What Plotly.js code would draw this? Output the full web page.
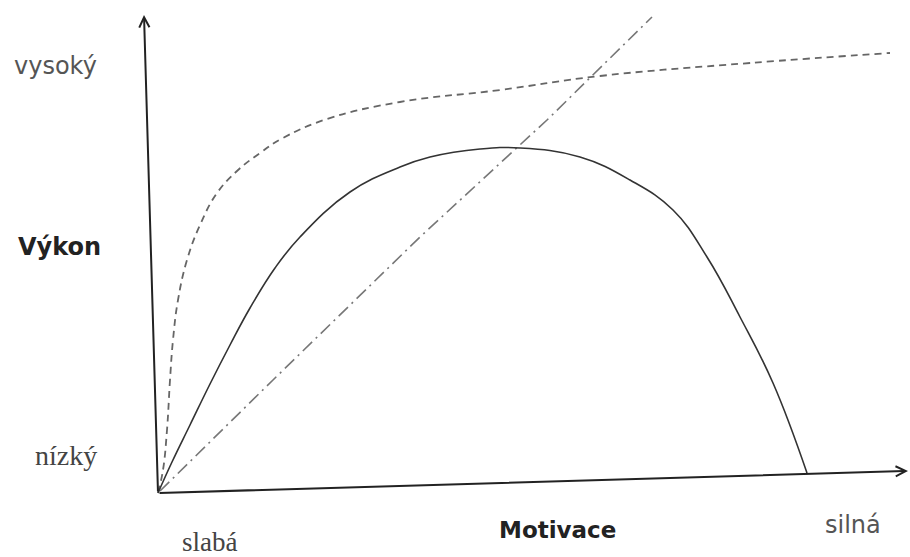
<!DOCTYPE html>
<html>
<head>
<meta charset="utf-8">
<script src="https://cdn.plot.ly/plotly-3.0.1.min.js"></script>
<style>html,body{margin:0;padding:0;background:#fff;}#chart{width:910px;height:557px;}</style>
</head>
<body>
<div id="chart"></div>
<script>
// Data (motivation on x, performance on y; origin at the axes' corner)
const performanceX = [0, 14, 32, 52, 72, 92, 117, 142, 192, 242, 272, 322, 362, 422, 472, 515, 549, 582, 615, 649];
const performanceY = [0, 31, 68, 109, 148, 185, 225, 256, 301, 326, 336, 344, 345, 336, 313, 283, 236, 176, 110, 20];

const dashedX = [0, 5, 9, 12, 15, 20, 29, 42, 59, 79, 102, 125, 169, 242, 342, 442, 592, 732];
const dashedY = [0, 23, 63, 113, 153, 193, 233, 268, 300, 322, 340, 355, 374, 391, 403, 417, 430, 440];

const dashDotX = [2, 115, 262, 389, 494];
const dashDotY = [2, 113, 256, 373, 476];

const yAxisEnd = [-14, 478];
const xAxisEnd = [750, 22];

const labels = {
  high: 'vysoký', low: 'nízký', yTitle: 'Výkon',
  weak: 'slabá', strong: 'silná', xTitle: 'Motivace'
};

const traces = [
  {x: dashDotX, y: dashDotY, mode: 'lines', line: {color: '#777', width: 1.6, dash: '13px,5px,2px,5px'}, hoverinfo: 'skip'},
  {x: dashedX, y: dashedY, mode: 'lines', line: {color: '#666', width: 1.8, dash: '7px,5px', shape: 'spline', smoothing: 1.2}, hoverinfo: 'skip'},
  {x: performanceX, y: performanceY, mode: 'lines', line: {color: '#333', width: 1.6, shape: 'spline', smoothing: 1.2}, hoverinfo: 'skip'}
];

const arrowCommon = {xref: 'x', yref: 'y', axref: 'x', ayref: 'y', text: '', showarrow: true,
  arrowhead: 5, arrowsize: 1, arrowwidth: 2, arrowcolor: '#222', standoff: 0, startstandoff: 0};

const annotations = [
  Object.assign({}, arrowCommon, {x: yAxisEnd[0], y: yAxisEnd[1], ax: 0, ay: 0}),
  Object.assign({}, arrowCommon, {x: xAxisEnd[0], y: xAxisEnd[1], ax: 0, ay: 0}),
  {xref: 'x', yref: 'y', x: -103, y: 427, text: labels.high, showarrow: false,
   font: {family: 'DejaVu Sans', size: 24, color: '#555'}},
  {xref: 'x', yref: 'y', x: -99, y: 246, text: '<b>' + labels.yTitle + '</b>', showarrow: false,
   font: {family: 'DejaVu Sans', size: 24, color: '#222'}},
  {xref: 'x', yref: 'y', x: -92, y: 38, text: labels.low, showarrow: false,
   font: {family: 'Liberation Serif', size: 28, color: '#444'}},
  {xref: 'x', yref: 'y', x: 51, y: -49, text: labels.weak, showarrow: false,
   font: {family: 'Liberation Serif', size: 27, color: '#444'}},
  {xref: 'x', yref: 'y', x: 399, y: -37, text: '<b>' + labels.xTitle + '</b>', showarrow: false,
   font: {family: 'DejaVu Sans', size: 23, color: '#222'}},
  {xref: 'x', yref: 'y', x: 695, y: -32, text: labels.strong, showarrow: false,
   font: {family: 'DejaVu Sans', size: 24, color: '#555'}}
];

const layout = {
  width: 910, height: 557,
  margin: {l: 0, r: 0, t: 0, b: 0},
  paper_bgcolor: '#fff', plot_bgcolor: '#fff',
  showlegend: false,
  xaxis: {range: [-158, 752], visible: false, showgrid: false, zeroline: false, fixedrange: true},
  yaxis: {range: [-64, 493], visible: false, showgrid: false, zeroline: false, fixedrange: true},
  annotations: annotations
};

Plotly.newPlot('chart', traces, layout, {displayModeBar: false, staticPlot: true});
</script>
</body>
</html>
